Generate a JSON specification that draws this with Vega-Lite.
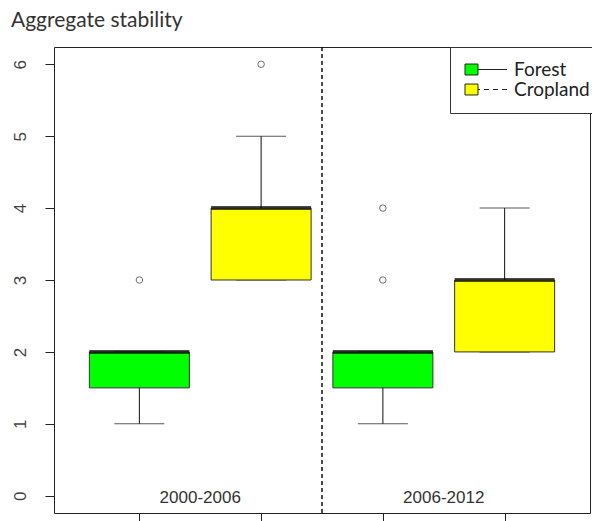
{
  "$schema": "https://vega.github.io/schema/vega-lite/v6.json",
  "width": 536,
  "height": 466,
  "autosize": {"type": "none"},
  "padding": {"left": 54, "top": 47, "right": 2, "bottom": 8},
  "background": "white",
  "title": {
    "text": "Aggregate stability",
    "anchor": "start",
    "frame": "group",
    "font": "Lato",
    "fontSize": 21,
    "fontWeight": "normal",
    "color": "#333333",
    "baseline": "alphabetic",
    "offset": 20,
    "dx": -43,
    "dy": 21
  },
  "config": {
    "view": {"stroke": "#222222", "strokeWidth": 1},
    "axis": {"grid": false, "title": null}
  },
  "datasets": {
    "boxes": [
      {"pos": 1, "period": "2000-2006", "group": "Forest", "lower": 1, "q1": 1.5, "median": 2, "q3": 2, "upper": 2},
      {"pos": 2, "period": "2000-2006", "group": "Cropland", "lower": 3, "q1": 3, "median": 4, "q3": 4, "upper": 5},
      {"pos": 3, "period": "2006-2012", "group": "Forest", "lower": 1, "q1": 1.5, "median": 2, "q3": 2, "upper": 2},
      {"pos": 4, "period": "2006-2012", "group": "Cropland", "lower": 2, "q1": 2, "median": 3, "q3": 3, "upper": 4}
    ],
    "outliers": [
      {"pos": 1, "group": "Forest", "value": 3},
      {"pos": 2, "group": "Cropland", "value": 6},
      {"pos": 3, "group": "Forest", "value": 3},
      {"pos": 3, "group": "Forest", "value": 4}
    ],
    "periods": [
      {"period": "2000-2006", "mid": 1.5, "base": 0},
      {"period": "2006-2012", "mid": 3.5, "base": 0}
    ]
  },
  "layer": [
    {
      "data": {"name": "boxes"},
      "mark": {"type": "rule", "color": "#111111", "strokeWidth": 1},
      "encoding": {
        "x": {
          "field": "pos", "type": "quantitative",
          "scale": {"domain": [0.34, 4.66], "nice": false, "zero": false},
          "axis": {"values": [1, 2, 3, 4], "labels": false, "domain": false, "tickSize": 9, "tickColor": "#222222", "tickWidth": 1}
        },
        "y": {
          "field": "lower", "type": "quantitative",
          "scale": {"domain": [-0.24, 6.24], "nice": false, "zero": false},
          "axis": {
            "values": [0, 1, 2, 3, 4, 5, 6], "format": "d", "domain": false, "tickSize": 9, "tickColor": "#222222", "tickWidth": 1,
            "labelAngle": 270, "labelAlign": "center", "labelBaseline": "bottom", "labelPadding": 16,
            "labelFont": "Liberation Sans", "labelFontSize": 17, "labelColor": "#444444"
          }
        },
        "y2": {"field": "upper"}
      }
    },
    {
      "data": {"name": "boxes"},
      "mark": {"type": "tick", "orient": "horizontal", "size": 50, "thickness": 1, "color": "#111111"},
      "encoding": {
        "x": {"field": "pos", "type": "quantitative"},
        "y": {"field": "lower", "type": "quantitative"}
      }
    },
    {
      "data": {"name": "boxes"},
      "mark": {"type": "tick", "orient": "horizontal", "size": 50, "thickness": 1, "color": "#111111"},
      "encoding": {
        "x": {"field": "pos", "type": "quantitative"},
        "y": {"field": "upper", "type": "quantitative"}
      }
    },
    {
      "data": {"name": "boxes"},
      "mark": {"type": "bar", "width": 100, "stroke": "#333333", "strokeWidth": 1},
      "encoding": {
        "x": {"field": "pos", "type": "quantitative"},
        "y": {"field": "q1", "type": "quantitative"},
        "y2": {"field": "q3"},
        "fill": {
          "field": "group", "type": "nominal",
          "scale": {"domain": ["Forest", "Cropland"], "range": ["#00ff00", "#ffff00"]},
          "legend": {
            "title": null,
            "orient": "none",
            "legendX": 396,
            "legendY": 0,
            "padding": 13,
            "strokeColor": "#333333",
            "fillColor": "white",
            "symbolType": "M4.6,0H0.73V-0.73H-1V0.73H0.73V0",
            "symbolSize": 225,
            "symbolStrokeColor": "#222222",
            "symbolStrokeWidth": 1,
            "labelOffset": 32,
            "labelFont": "Lato",
            "labelFontSize": 19,
            "labelColor": "#222222",
            "rowPadding": -1,
            "encode": {
              "symbols": {
                "update": {
                  "strokeDash": {"signal": "datum.label === 'Cropland' ? [5, 4, 5, 4, 5, 4, 300] : [1000, 0]"}
                }
              }
            }
          }
        }
      }
    },
    {
      "data": {"name": "boxes"},
      "mark": {"type": "tick", "orient": "horizontal", "size": 100, "thickness": 4, "color": "#000000"},
      "encoding": {
        "x": {"field": "pos", "type": "quantitative"},
        "y": {"field": "median", "type": "quantitative"}
      }
    },
    {
      "data": {"name": "outliers"},
      "mark": {"type": "point", "shape": "circle", "size": 42, "filled": false, "stroke": "#333333", "strokeWidth": 1},
      "encoding": {
        "x": {"field": "pos", "type": "quantitative"},
        "y": {"field": "value", "type": "quantitative"}
      }
    },
    {
      "data": {"name": "periods"},
      "mark": {"type": "rule", "color": "#111111", "strokeWidth": 1, "strokeDash": [4, 3]},
      "encoding": {
        "x": {"datum": 2.5, "type": "quantitative"}
      }
    },
    {
      "data": {"name": "periods"},
      "mark": {"type": "text", "font": "Liberation Sans", "fontSize": 17, "color": "#333333", "baseline": "middle", "align": "center", "dy": 2},
      "encoding": {
        "x": {"field": "mid", "type": "quantitative"},
        "y": {"field": "base", "type": "quantitative"},
        "text": {"field": "period"}
      }
    }
  ]
}
